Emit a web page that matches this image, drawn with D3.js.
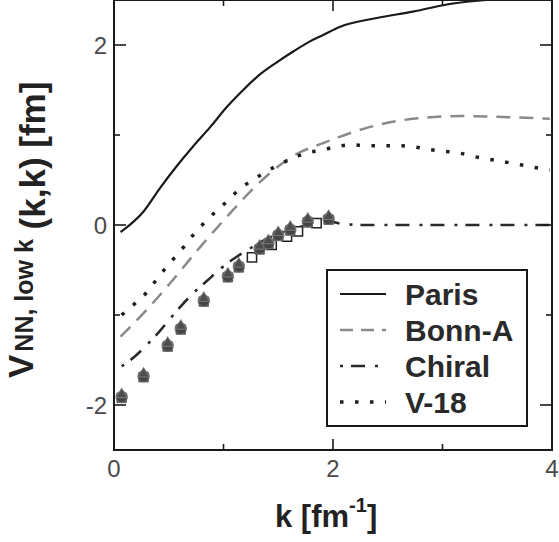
<!DOCTYPE html>
<html>
<head>
<meta charset="utf-8">
<script src="https://cdn.jsdelivr.net/npm/d3@7"></script>
<style>
  body { margin: 0; background: #fff; }
  text { font-family: "Liberation Sans", Arial, sans-serif; }
</style>
</head>
<body>
<svg id="chart" width="559" height="542"></svg>
<script>
// values
var parisK = [0.06, 0.27, 0.42, 0.57, 0.72, 0.88, 1.03, 1.18, 1.33, 1.49, 1.64, 1.79, 1.91, 2.06, 2.4, 2.73, 3.04, 3.4, 3.7, 4.0];
var parisV = [-0.08, 0.15, 0.41, 0.65, 0.87, 1.09, 1.31, 1.5, 1.67, 1.81, 1.93, 2.04, 2.11, 2.2, 2.3, 2.37, 2.45, 2.5, 2.52, 2.53];

var bonnK = [0.06, 0.27, 0.51, 0.79, 1.09, 1.3, 1.67, 1.91, 2.06, 2.34, 2.73, 3.16, 3.55, 3.98];
var bonnV = [-1.24, -0.98, -0.65, -0.24, 0.17, 0.44, 0.79, 0.91, 0.98, 1.09, 1.18, 1.21, 1.2, 1.18];

var chiralK = [0.07, 0.2, 0.31, 0.41, 0.52, 0.62, 0.73, 0.85, 0.97, 1.1, 1.23, 1.4, 1.6, 1.8, 1.95, 2.1, 2.3, 2.6, 3.0, 3.5, 4.0];
var chiralV = [-1.57, -1.45, -1.32, -1.19, -1.03, -0.89, -0.75, -0.62, -0.49, -0.37, -0.27, -0.15, -0.06, 0.01, 0.04, 0.01, 0, 0, 0, 0, 0];

var v18K = [0.07, 0.175, 0.283, 0.374, 0.457, 0.548, 0.64, 0.73, 0.83, 0.93, 1.03, 1.13, 1.24, 1.36, 1.49, 1.61, 1.76, 1.89, 2.03, 2.17, 2.31, 2.45, 2.59, 2.73, 2.87, 3.01, 3.15, 3.29, 3.43, 3.57, 3.71, 3.84, 3.98];
var v18V = [-1.0, -0.89, -0.77, -0.63, -0.5, -0.37, -0.24, -0.1, 0.03, 0.15, 0.26, 0.38, 0.48, 0.57, 0.66, 0.73, 0.8, 0.83, 0.87, 0.89, 0.88, 0.88, 0.88, 0.87, 0.84, 0.82, 0.8, 0.76, 0.73, 0.7, 0.67, 0.64, 0.61];

// low-k points (filled symbols and open squares)
var lowkK = [0.07, 0.27, 0.49, 0.61, 0.82, 1.04, 1.14, 1.33, 1.41, 1.5, 1.61, 1.77, 1.96];
var lowkV = [-1.91, -1.68, -1.34, -1.15, -0.84, -0.57, -0.46, -0.26, -0.2, -0.11, -0.05, 0.04, 0.07];
var sqK = [1.26, 1.44, 1.58, 1.68, 1.85];
var sqV = [-0.36, -0.22, -0.13, -0.07, 0.02];

var xTicks = [0, 2, 4];
var yTicks = [-2, 0, 2];
var legendNames = ['Paris', 'Bonn-A', 'Chiral', 'V-18'];

var svg = d3.select('#chart');
var mLeft = 114, mRight = 552, mTop = 0, mBottom = 450;

var x = d3.scaleLinear().domain([0, 4]).range([mLeft, mRight]);
var y = d3.scaleLinear().domain([-2.5, 2.5]).range([mBottom, mTop]);

svg.append('defs').append('clipPath').attr('id', 'clip')
    .append('rect').attr('x', mLeft).attr('y', mTop).attr('width', mRight - mLeft).attr('height', mBottom - mTop);

var styles = {
    'Paris':  { stroke: '#1a1a1a', width: 2.2, dash: null },
    'Bonn-A': { stroke: '#8a8a8a', width: 2.5, dash: '14,9' },
    'Chiral': { stroke: '#2a2a2a', width: 2.6, dash: '3,8,14,10' },
    'V-18':   { stroke: '#1f1f1f', width: 3.5, dash: '3.5,11.5' }
};

var series = [
    { name: 'Paris', k: parisK, v: parisV },
    { name: 'Bonn-A', k: bonnK, v: bonnV },
    { name: 'Chiral', k: chiralK, v: chiralV },
    { name: 'V-18', k: v18K, v: v18V }
];

var line = d3.line().x(d => x(d[0])).y(d => y(d[1])).curve(d3.curveMonotoneX);

var plot = svg.append('g').attr('clip-path', 'url(#clip)');
series.forEach(function(s) {
    var st = styles[s.name];
    plot.append('path')
        .datum(d3.zip(s.k, s.v))
        .attr('d', line)
        .attr('fill', 'none')
        .attr('stroke', st.stroke)
        .attr('stroke-width', st.width)
        .attr('stroke-dasharray', st.dash);
});

// open squares
plot.selectAll('.sq').data(d3.zip(sqK, sqV)).enter()
    .append('path')
    .attr('transform', d => 'translate(' + x(d[0]) + ',' + y(d[1]) + ')')
    .attr('d', d3.symbol().type(d3.symbolSquare).size(85))
    .attr('fill', '#fff')
    .attr('stroke', '#222')
    .attr('stroke-width', 1.5);

// filled symbols (several overlapping markers)
var pts = plot.selectAll('.pt').data(d3.zip(lowkK, lowkV)).enter()
    .append('g')
    .attr('transform', d => 'translate(' + x(d[0]) + ',' + y(d[1]) + ')');
pts.append('path')
    .attr('d', d3.symbol().type(d3.symbolSquare).size(90))
    .attr('transform', 'translate(0,1)')
    .attr('fill', '#3a3a3a')
    .attr('stroke', '#666')
    .attr('stroke-width', 1);
pts.append('path')
    .attr('d', d3.symbol().type(d3.symbolCircle).size(105))
    .attr('fill', '#444')
    .attr('stroke', '#777')
    .attr('stroke-width', 0.8);
pts.append('path')
    .attr('d', d3.symbol().type(d3.symbolTriangle).size(55))
    .attr('transform', 'translate(0,-2.5)')
    .attr('fill', '#4d4d4d')
    .attr('stroke', '#888')
    .attr('stroke-width', 0.8);

// frame
svg.append('rect')
    .attr('x', mLeft).attr('y', mTop)
    .attr('width', mRight - mLeft).attr('height', mBottom - mTop)
    .attr('fill', 'none').attr('stroke', '#1a1a1a').attr('stroke-width', 2);

// inward ticks on all sides
var ax = svg.append('g').attr('stroke', '#1a1a1a').attr('stroke-width', 1.6);
d3.range(0, 5).forEach(function(t) {
    var len = t % 2 == 0 ? 11 : 6;
    ax.append('line').attr('x1', x(t)).attr('x2', x(t)).attr('y1', mBottom).attr('y2', mBottom - len);
    ax.append('line').attr('x1', x(t)).attr('x2', x(t)).attr('y1', mTop).attr('y2', mTop + len);
});
d3.range(-2, 3).forEach(function(t) {
    var len = t % 2 == 0 ? 12 : 6;
    ax.append('line').attr('x1', mLeft).attr('x2', mLeft + len).attr('y1', y(t)).attr('y2', y(t));
    ax.append('line').attr('x1', mRight).attr('x2', mRight - len).attr('y1', y(t)).attr('y2', y(t));
});

// tick labels
svg.selectAll('.xt').data(xTicks).enter().append('text')
    .attr('x', d => x(d)).attr('y', 477)
    .attr('text-anchor', 'middle')
    .attr('font-size', 24).attr('fill', '#4a4a4a')
    .text(d => d);
svg.selectAll('.yt').data(yTicks).enter().append('text')
    .attr('x', 107).attr('y', d => y(d) + 9)
    .attr('text-anchor', 'end')
    .attr('font-size', 24).attr('fill', '#4a4a4a')
    .text(d => d);

// axis titles
var xl = svg.append('text')
    .attr('x', 275).attr('y', 527)
    .attr('font-size', 31).attr('font-weight', 'bold').attr('fill', '#222');
xl.append('tspan').text('k [fm');
xl.append('tspan').attr('font-size', 20).attr('dy', -15).text('-1');
xl.append('tspan').attr('dy', 15).text(']');

var yl = svg.append('g').attr('transform', 'rotate(-90)')
    .attr('font-weight', 'bold').attr('fill', '#222');
var ylt = yl.append('text').attr('x', -378).attr('y', 33).attr('font-size', 35);
ylt.append('tspan').text('V');
ylt.append('tspan').attr('font-size', 25).attr('dx', 3).text('NN, low k');
ylt.append('tspan').attr('dy', 12).text(' (k,k) [fm]');

// legend
var lg = svg.append('g');
lg.append('rect')
    .attr('x', 327).attr('y', 270).attr('width', 200).attr('height', 156)
    .attr('fill', '#fff').attr('stroke', '#1a1a1a').attr('stroke-width', 2);
legendNames.forEach(function(n, i) {
    var st = styles[n];
    var ly = 294 + i * 36;
    lg.append('line')
        .attr('x1', 340).attr('x2', 386).attr('y1', ly).attr('y2', ly)
        .attr('stroke', st.stroke).attr('stroke-width', st.width)
        .attr('stroke-dasharray', n == 'Bonn-A' ? '13,8' : st.dash);
    lg.append('text')
        .attr('x', 405).attr('y', ly + 11)
        .attr('font-size', 30).attr('font-weight', 'bold').attr('fill', '#2a2a2a')
        .text(n);
});
</script>
</body>
</html>
